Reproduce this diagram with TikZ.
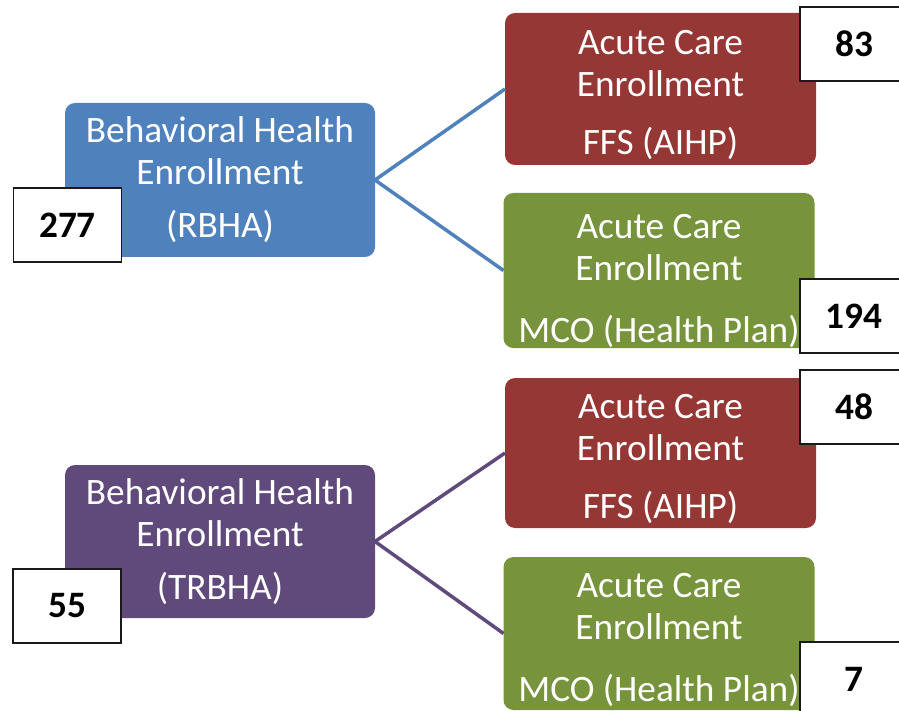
\documentclass[tikz,border=0pt]{standalone}
\usepackage{fontspec}
\setmainfont{Carlito}
\usepackage{tikz}

\definecolor{bhblue}{HTML}{4F81BD}
\definecolor{bhpurple}{HTML}{604A7B}
\definecolor{ffsred}{HTML}{953735}
\definecolor{mcogreen}{HTML}{77933C}
\newcommand{\headroom}[1]{\rule{0pt}{#1}}

\begin{document}
\begin{tikzpicture}[x=1pt, y=-1pt,
  enroll/.style={rounded corners=10pt, minimum width=311pt, minimum height=153pt,
    inner sep=0pt, outer sep=0pt, text=white, align=center,
    font=\fontsize{37.3}{42}\selectfont},
  count/.style={draw=black!90, line width=1.6pt, fill=white, minimum width=108pt,
    minimum height=74pt, inner sep=0pt, font=\bfseries\fontsize{37.3}{42}\selectfont},
  branch/.style={line width=3.5pt}]
          \useasboundingbox (0,0) rectangle (899,711);
          \clip (0,0) rectangle (899,711);
          % behavioral health (top group)
          \node[enroll, fill=bhblue, minimum width=310pt, minimum height=154pt] (rbha) at (220,180) {Behavioral Health\\Enrollment\\[11pt](RBHA)};
          \node[enroll, fill=ffsred, minimum height=152pt] (ffs1) at (660.5,89) {\headroom{37pt}Acute Care\\Enrollment\\[16pt]FFS (AIHP)};
          \node[enroll, fill=mcogreen, minimum height=155pt] (mco1) at (659,270.5) {\headroom{46pt}Acute Care\\Enrollment\\[20pt]MCO (Health Plan)};
          \draw [branch, bhblue] (rbha.east) -- (ffs1.west);
          \draw [branch, bhblue] (rbha.east) -- (mco1.west);
          % behavioral health (bottom group)
          \node[enroll, fill=bhpurple, minimum width=310pt] (trbha) at (220,541.5) {Behavioral Health\\Enrollment\\[11pt](TRBHA)};
          \node[enroll, fill=ffsred, minimum height=150pt] (ffs2) at (660.5,453) {\headroom{37pt}Acute Care\\Enrollment\\[16pt]FFS (AIHP)};
          \node[enroll, fill=mcogreen] (mco2) at (659,633.5) {\headroom{38pt}Acute Care\\Enrollment\\[20pt]MCO (Health Plan)};
          \draw [branch, bhpurple] (trbha.east) -- (ffs2.west);
          \draw [branch, bhpurple] (trbha.east) -- (mco2.west);
          % counts
          \node[count] (n277) at (67.5,225) {277};
          \node[count] (n83) at (854,44) {83};
          \node[count] (n194) at (854,316) {194};
          \node[count] (n55) at (67,606) {55};
          \node[count] (n48) at (854,407) {48};
          \node[count] (n7) at (854,679) {7};
\end{tikzpicture}
\end{document}
